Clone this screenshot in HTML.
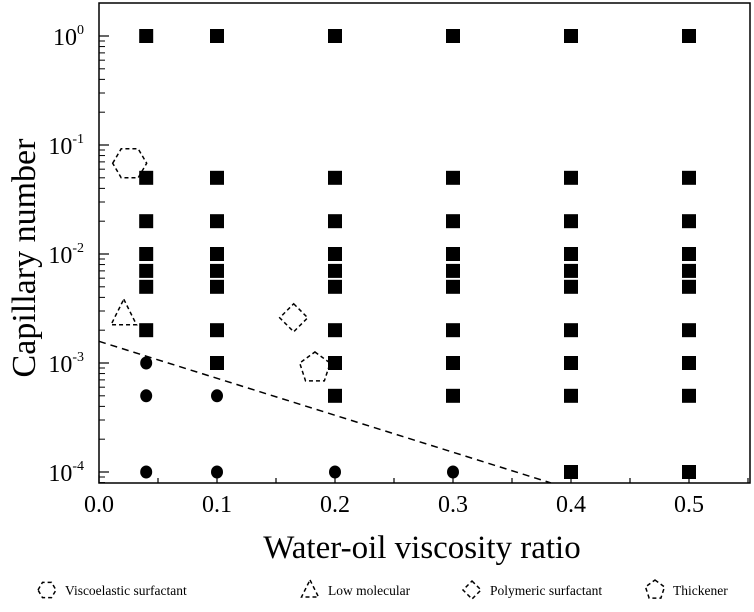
<!DOCTYPE html>
<html><head><meta charset="utf-8"><style>
body{margin:0;background:#fff;}
svg text{font-family:"Liberation Serif",serif;fill:#000;}
</style></head><body>
<svg width="754" height="607" viewBox="0 0 754 607" xmlns="http://www.w3.org/2000/svg">
<g id="axes"></g><g id="marks"></g><g id="legend"></g>
</svg>
<script>
const xTicks=[0,0.1,0.2,0.3,0.4,0.5];
const xTickLabels=["0.0","0.1","0.2","0.3","0.4","0.5"];
const yTickExps=[0,-1,-2,-3,-4];
const squareX=[0.04,0.04,0.04,0.04,0.04,0.04,0.04, 0.1,0.1,0.1,0.1,0.1,0.1,0.1,0.1, 0.2,0.2,0.2,0.2,0.2,0.2,0.2,0.2,0.2, 0.3,0.3,0.3,0.3,0.3,0.3,0.3,0.3,0.3, 0.4,0.4,0.4,0.4,0.4,0.4,0.4,0.4,0.4,0.4, 0.5,0.5,0.5,0.5,0.5,0.5,0.5,0.5,0.5,0.5];
const squareY=[1,0.05,0.02,0.01,0.007,0.005,0.002, 1,0.05,0.02,0.01,0.007,0.005,0.002,0.001, 1,0.05,0.02,0.01,0.007,0.005,0.002,0.001,0.0005, 1,0.05,0.02,0.01,0.007,0.005,0.002,0.001,0.0005, 1,0.05,0.02,0.01,0.007,0.005,0.002,0.001,0.0005,0.0001, 1,0.05,0.02,0.01,0.007,0.005,0.002,0.001,0.0005,0.0001];
const circleX=[0.04,0.04,0.04,0.1,0.1,0.2,0.3];
const circleY=[0.001,0.0005,0.0001,0.0005,0.0001,0.0001,0.0001];
const boundaryX=[0,0.383];
const boundaryY=[0.00158,0.0000794];
const hexPt=[0.026,0.068],triPt=[0.021,0.0028],diaPt=[0.165,0.0026],pentPt=[0.183,0.0009];
const legendLabels=["Viscoelastic surfactant","Low molecular","Polymeric surfactant","Thickener"];

const NS="http://www.w3.org/2000/svg";
const L=99,R=750,T=3,B=483;
const X=v=>L+(v-0)/0.1*118;
const Y=v=>36-Math.log10(v)*109;
function mk(tag,attrs,parent){const e=document.createElementNS(NS,tag);for(const k in attrs)e.setAttribute(k,attrs[k]);parent.appendChild(e);return e;}
const ax=document.getElementById('axes'),mg=document.getElementById('marks'),lg=document.getElementById('legend');
let f=mk('rect',{x:L,y:T,width:R-L,height:B-T,fill:'none',stroke:'#000','stroke-width':1.5},ax);

xTicks.forEach((t,i)=>{
 let l=mk('line',{x1:X(t),x2:X(t),y1:B,y2:B-8,stroke:'#000','stroke-width':1.2},ax);
 
 let m=mk('line',{x1:X(t+0.05),x2:X(t+0.05),y1:B,y2:B-5,stroke:'#000','stroke-width':1.2},ax);
 
 let tx=mk('text',{x:X(t),y:512,'font-size':24,'text-anchor':'middle'},ax);tx.textContent=xTickLabels[i];
 
});
yTickExps.forEach(e=>{
 const y=Y(Math.pow(10,e));
 let l=mk('line',{x1:L,x2:L+10,y1:y,y2:y,stroke:'#000','stroke-width':1.2},ax);
 
 for(let k=2;k<=9;k++){const yy=Y(k*Math.pow(10,e-1));if(yy<T||yy>B)continue;
  let m=mk('line',{x1:L,x2:L+6,y1:yy,y2:yy,stroke:'#000','stroke-width':1},ax);
  }
 let tx=mk('text',{x:84,y:y+9,'font-size':24,'text-anchor':'end'},ax);
 
 tx.textContent='10';let s=mk('tspan',{dy:-11,'font-size':14},tx);s.textContent=String(e);
});
let xt=mk('text',{x:422,y:558,'font-size':33,'text-anchor':'middle'},ax);xt.textContent='Water-oil viscosity ratio';

let yt=mk('text',{x:0,y:0,'font-size':34,'text-anchor':'middle',transform:'translate(35,258) rotate(-90)'},ax);yt.textContent='Capillary number';

squareX.forEach((x,i)=>{let r=mk('rect',{x:X(x)-7,y:Y(squareY[i])-7,width:14,height:14,fill:'#000'},mg);
 });
circleX.forEach((x,i)=>{let c=mk('ellipse',{cx:X(x),cy:Y(circleY[i]),rx:6,ry:6.5,fill:'#000'},mg);
 });
let bl=mk('line',{x1:X(boundaryX[0]),y1:Y(boundaryY[0]),x2:X(boundaryX[1]),y2:Y(boundaryY[1]),stroke:'#000','stroke-width':1.5,'stroke-dasharray':'7,5'},mg);

function poly(cx,cy,pts,name,parent){const p=mk('polygon',{points:pts.map(q=>(cx+q[0])+','+(cy+q[1])).join(' '),fill:'none',stroke:'#000','stroke-width':1.5,'stroke-dasharray':'4,3'},parent);
 }
const hex=s=>[[-s,0],[-s/2,-s*0.85],[s/2,-s*0.85],[s,0],[s/2,s*0.85],[-s/2,s*0.85]];
const tri=s=>[[0,-s],[s*0.85,s*0.7],[-s*0.85,s*0.7]];
const dia=s=>[[0,-s],[s,0],[0,s],[-s,0]];
const pent=s=>[0,1,2,3,4].map(i=>[s*Math.sin(i*2*Math.PI/5),-s*Math.cos(i*2*Math.PI/5)]);
poly(X(hexPt[0]),Y(hexPt[1]),hex(17),'viscoelastic-surfactant-marker',mg);
poly(X(triPt[0]),Y(triPt[1]),tri(15),'low-molecular-marker',mg);
poly(X(diaPt[0]),Y(diaPt[1]),dia(14),'polymeric-surfactant-marker',mg);
poly(X(pentPt[0]),Y(pentPt[1]),pent(16),'thickener-marker',mg);
const lgX=[47,310,472,655],shapes=[hex(9),tri(10),dia(9),pent(10)];
legendLabels.forEach((t,i)=>{poly(lgX[i],590,shapes[i],'legend-icon',lg);
 let tx=mk('text',{x:lgX[i]+18,y:595,'font-size':13.5},lg);tx.textContent=t;
 });
</script>
</body></html>
